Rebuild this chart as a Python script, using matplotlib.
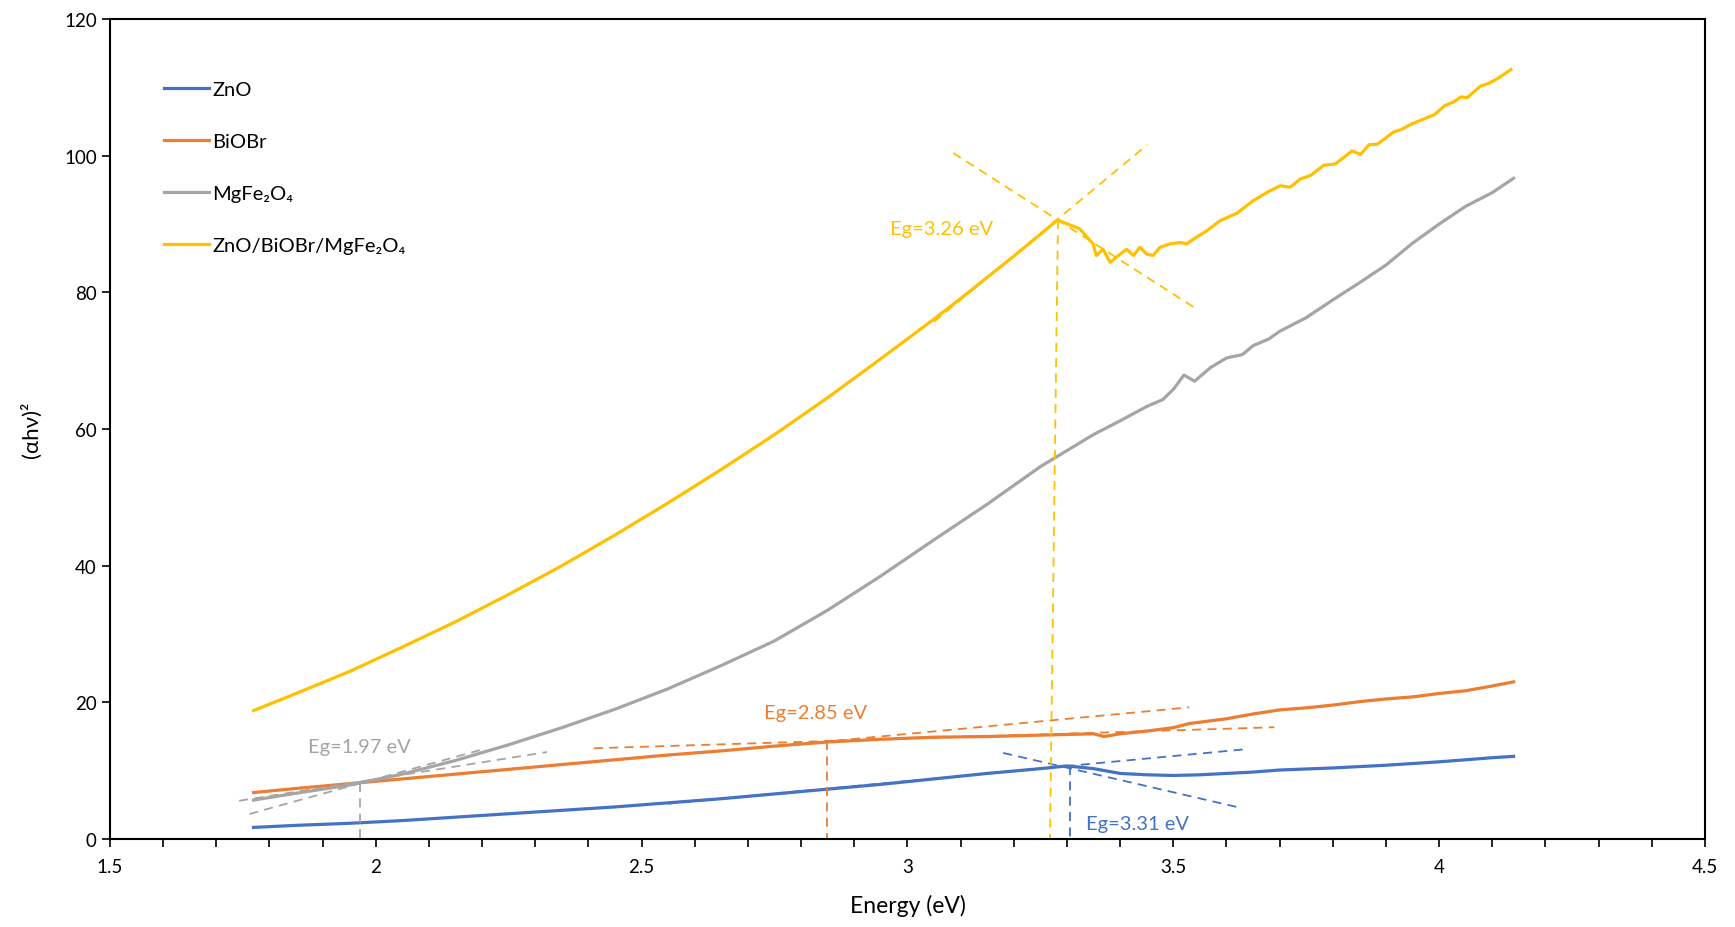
import matplotlib
matplotlib.use("Agg")
import matplotlib.pyplot as plt
from matplotlib.ticker import MultipleLocator, FuncFormatter

# ---- data ----
e_zno = [1.77, 1.85, 1.95, 2.05, 2.15, 2.25, 2.35, 2.45, 2.55, 2.65, 2.75, 2.85, 2.95, 3.05,
         3.15, 3.25, 3.30, 3.35, 3.40, 3.45, 3.50, 3.55, 3.60, 3.65, 3.70, 3.80, 3.90, 4.00,
         4.10, 4.14]
zno = [1.7, 2.0, 2.3, 2.7, 3.2, 3.7, 4.2, 4.7, 5.3, 5.9, 6.6, 7.3, 8.0, 8.8,
       9.6, 10.3, 10.7, 10.3, 9.6, 9.4, 9.3, 9.4, 9.6, 9.8, 10.1, 10.4, 10.8, 11.3,
       11.9, 12.1]

e_biobr = [1.77, 1.85, 1.95, 2.05, 2.15, 2.25, 2.35, 2.45, 2.55, 2.65, 2.75, 2.85, 2.95, 3.05,
           3.15, 3.25, 3.35, 3.37, 3.40, 3.45, 3.50, 3.53, 3.55, 3.60, 3.65, 3.70, 3.75,
           3.80, 3.85, 3.90, 3.95, 4.00, 4.05, 4.10, 4.14]
biobr = [6.8, 7.4, 8.1, 8.8, 9.5, 10.2, 10.9, 11.6, 12.3, 12.9, 13.6, 14.2, 14.6, 14.9,
         15.0, 15.2, 15.4, 15.0, 15.4, 15.8, 16.3, 16.9, 17.1, 17.6, 18.3, 18.9, 19.2,
         19.6, 20.1, 20.5, 20.8, 21.3, 21.7, 22.4, 23.0]

e_mgfe = [1.77, 1.85, 1.95, 2.05, 2.15, 2.25, 2.35, 2.45, 2.55, 2.65, 2.75, 2.85, 2.95, 3.05,
          3.15, 3.25, 3.35, 3.40, 3.45, 3.48, 3.50, 3.52, 3.54, 3.57, 3.60, 3.63, 3.65, 3.68,
          3.70, 3.75, 3.80, 3.85, 3.90, 3.95, 4.00, 4.05, 4.10, 4.14]
mgfe = [5.7, 6.7, 7.9, 9.5, 11.5, 13.8, 16.3, 19.0, 22.0, 25.4, 29.0, 33.5, 38.5, 43.8,
        49.0, 54.5, 59.2, 61.2, 63.3, 64.3, 65.8, 67.9, 67.0, 69.0, 70.4, 70.9, 72.2, 73.2,
        74.3, 76.3, 78.9, 81.4, 84.0, 87.2, 90.0, 92.6, 94.6, 96.7]

e_comp = [1.77, 1.85, 1.95, 2.05, 2.15, 2.25, 2.35, 2.45, 2.55, 2.65, 2.75, 2.85, 2.95, 3.05,
          3.10, 3.15, 3.20, 3.25, 3.282, 3.324, 3.349, 3.355, 3.368, 3.381, 3.40, 3.412, 3.425,
          3.437, 3.45, 3.462, 3.475, 3.494, 3.513, 3.525, 3.544, 3.563, 3.588, 3.62, 3.65,
          3.68, 3.701, 3.72, 3.739, 3.758, 3.783, 3.805, 3.836, 3.852, 3.868, 3.884, 3.915,
          3.928, 3.947, 3.978, 3.991, 4.010, 4.028, 4.041, 4.053, 4.078, 4.094, 4.110, 4.135]
comp = [18.8, 21.3, 24.5, 28.1, 31.8, 35.8, 40.0, 44.5, 49.2, 54.1, 59.2, 64.6, 70.3, 76.1,
        79.1, 82.2, 85.3, 88.5, 90.6, 89.3, 87.1, 85.4, 86.3, 84.4, 85.6, 86.3, 85.4,
        86.6, 85.6, 85.4, 86.6, 87.1, 87.3, 87.1, 88.1, 89.0, 90.5, 91.6, 93.4,
        94.8, 95.6, 95.4, 96.6, 97.1, 98.6, 98.8, 100.7, 100.2, 101.6, 101.7, 103.5,
        103.8, 104.6, 105.6, 106.0, 107.3, 107.9, 108.6, 108.5, 110.2, 110.6, 111.3, 112.6]

labels = ["ZnO", "BiOBr", "MgFe\u2082O\u2084", "ZnO/BiOBr/MgFe\u2082O\u2084"]
colors = ["#4472C4", "#ED7D31", "#A5A5A5", "#FFC000"]

# tangent lines (x pairs, y pairs) per sample, and band gap values
tang_zno = [([2.55, 3.64], [5.18, 13.17]), ([3.18, 3.63], [12.6, 4.5])]
tang_biobr = [([2.41, 3.69], [13.28, 16.36]), ([2.75, 3.53], [13.55, 19.27])]
tang_mgfe = [([1.743, 2.322], [5.6, 12.73]), ([1.762, 2.20], [3.66, 13.1])]
tang_comp = [([3.05, 3.451], [75.7, 101.6]), ([3.086, 3.543], [100.4, 77.6])]
eg_x = {"zno": (3.306, 3.306), "biobr": (2.848, 2.848), "mgfe": (1.97, 1.97), "comp": (3.283, 3.268)}
eg_y = {"zno": 10.73, "biobr": 14.3, "mgfe": 8.2, "comp": 90.6}
eg_text = {"zno": "Eg=3.31 eV", "biobr": "Eg=2.85 eV", "mgfe": "Eg=1.97 eV", "comp": "Eg=3.26 eV"}
eg_pos = {"zno": (3.335, 2.3), "biobr": (2.73, 18.5), "mgfe": (1.872, 13.6), "comp": (2.967, 89.3)}

fam = ["Lato", "DejaVu Sans"]
plt.rcParams["font.family"] = fam

fig = plt.figure(figsize=(17.35, 9.28), dpi=100)
ax = fig.add_axes([0.0634, 0.0948, 0.9193, 0.8836])

series = [(e_zno, zno), (e_biobr, biobr), (e_mgfe, mgfe), (e_comp, comp)]
for (x, y), lab, c in zip(series, labels, colors):
    ax.plot(x, y, color=c, lw=2.3, label=lab, solid_joinstyle="round")

dash = (0, (5, 3.5))
for key, tangs, c in zip(["zno", "biobr", "mgfe", "comp"],
                         [tang_zno, tang_biobr, tang_mgfe, tang_comp], colors):
    for tx, ty in tangs:
        ax.plot(tx, ty, color=c, lw=1.3, linestyle=dash)
    ax.plot(eg_x[key], [eg_y[key], 0], color=c, lw=1.3, linestyle=dash)
    ax.text(eg_pos[key][0], eg_pos[key][1], eg_text[key], color=c, fontsize=14.5,
            va="center", ha="left")

ax.set_xlim(1.5, 4.5)
ax.set_ylim(0, 120)
ax.xaxis.set_major_locator(MultipleLocator(0.5))
ax.xaxis.set_minor_locator(MultipleLocator(0.1))
ax.yaxis.set_major_locator(MultipleLocator(20))
ax.xaxis.set_major_formatter(FuncFormatter(lambda v, p: f"{v:g}"))
ax.tick_params(axis="both", which="both", direction="out", length=6, width=1.2,
               labelsize=13.5, colors="black")
ax.tick_params(axis="x", pad=8)
for s in ax.spines.values():
    s.set_linewidth(1.5)
    s.set_color("black")

ax.set_xlabel("Energy (eV)", fontsize=16.5, labelpad=13)
ax.set_ylabel("(\u03b1h\u03bd)\u00b2", fontsize=16, labelpad=16)

ax.legend(loc="upper left", bbox_to_anchor=(0.034, 0.924), frameon=False, fontsize=14.5,
          handlelength=2.2, handletextpad=0.2, labelspacing=1.72, borderpad=0,
          borderaxespad=0)

fig.savefig("out.png", dpi=100)
